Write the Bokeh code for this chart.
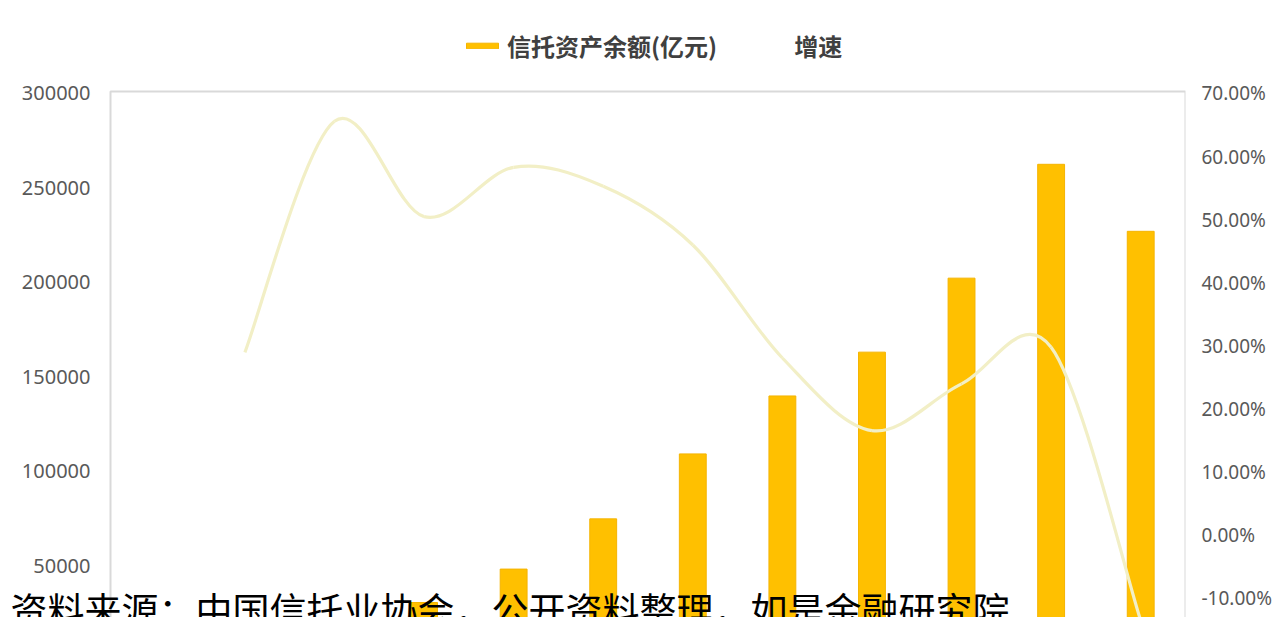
from bokeh.plotting import figure
from bokeh.models import (Range1d, LinearAxis, FixedTicker, PrintfTickFormatter, BoxAnnotation,
                          NumeralTickFormatter, Legend, LegendItem, Label, ColumnDataSource)
from bokeh.embed import file_html
from bokeh.resources import INLINE

# ---- data ----
years = ["2007", "2008", "2009", "2010", "2011", "2012", "2013", "2014", "2015", "2016", "2017", "2018"]
assets = [9500, 12200, 20200, 30400, 48100, 74700, 109100, 139800, 163000, 202200, 262500, 227000]
growth = [None, 29.0, 65.6, 50.5, 58.3, 55.3, 46.0, 28.1, 16.6, 24.0, 29.8, -13.5]
left_ticks = [50000, 100000, 150000, 200000, 250000, 300000]
right_ticks = [-10, 0, 10, 20, 30, 40, 50, 60, 70]
legend_labels = ["信托资产余额(亿元)", "增速"]
source_text = "资料来源：中国信托业协会，公开资料整理，如是金融研究院"

xs = list(range(len(years)))

W, H = 1286, 617
p = figure(width=W, height=H, output_backend="svg", toolbar_location=None,
           x_range=Range1d(-1.728, len(years) - 0.5),
           y_range=Range1d(22458, 349258),
           x_axis_location=None,
           min_border_left=0, min_border_right=101, min_border_top=0, min_border_bottom=0)
p.extra_y_ranges = {"pct": Range1d(-13.01, 84.73)}
p.grid.visible = False
p.outline_line_color = None
p.background_fill_color = "white"
p.border_fill_color = "white"

# plot-area border (left, top, right)
p.add_layout(BoxAnnotation(left=-0.5, right=len(years) - 0.5, top=301060, bottom=0,
                           fill_alpha=0, line_color="#D9D9D9", line_alpha=1.0, line_width=2,
                           level="underlay"))

# left axis
ya = p.yaxis[0]
ya.ticker = FixedTicker(ticks=left_ticks)
ya.formatter = NumeralTickFormatter(format="0")
ya.axis_line_color = None
ya.major_tick_line_color = None
ya.minor_tick_line_color = None
ya.major_tick_out = 0
ya.major_tick_in = 0
ya.major_label_text_font = "Noto Sans"
ya.major_label_text_font_size = "20px"
ya.major_label_text_color = "#595959"
ya.major_label_standoff = -90

ra = LinearAxis(y_range_name="pct", ticker=FixedTicker(ticks=right_ticks),
                formatter=PrintfTickFormatter(format="%.2f%%"))
ra.axis_line_color = None
ra.major_tick_line_color = None
ra.minor_tick_line_color = None
ra.major_tick_out = 0
ra.major_tick_in = 0
ra.major_label_text_font = "Noto Sans"
ra.major_label_text_font_size = "19px"
ra.major_label_text_color = "#595959"
ra.major_label_standoff = 16
p.add_layout(ra, "right")

# bars
bars = p.vbar(x=xs, top=assets, bottom=0, width=0.30, fill_color="#FFC000", line_color="#F5B400",
              line_width=1)

# smooth growth line (Catmull-Rom style bezier segments computed from data)
gx = [x for x, g in zip(xs, growth) if g is not None]
gy = [g for g in growth if g is not None]
n = len(gx)
x0, y0, x1, y1, cx0, cy0, cx1, cy1 = [], [], [], [], [], [], [], []
for i in range(n - 1):
    pxm, pym = (gx[i - 1], gy[i - 1]) if i > 0 else (gx[i], gy[i])
    pxp, pyp = (gx[i + 2], gy[i + 2]) if i + 2 < n else (gx[i + 1], gy[i + 1])
    x0.append(gx[i]); y0.append(gy[i]); x1.append(gx[i + 1]); y1.append(gy[i + 1])
    cx0.append(gx[i] + (gx[i + 1] - pxm) / 6.0); cy0.append(gy[i] + (gy[i + 1] - pym) / 6.0)
    cx1.append(gx[i + 1] - (pxp - gx[i]) / 6.0); cy1.append(gy[i + 1] - (pyp - gy[i]) / 6.0)
src = ColumnDataSource(dict(x0=x0, y0=y0, x1=x1, y1=y1, cx0=cx0, cy0=cy0, cx1=cx1, cy1=cy1))
p.bezier(x0="x0", y0="y0", x1="x1", y1="y1", cx0="cx0", cy0="cy0", cx1="cx1", cy1="cy1",
         source=src, y_range_name="pct", line_color="#F2EFC6", line_width=3.2)
line_proxy = p.line(x=[], y=[], y_range_name="pct", line_color="#F2EFC6", line_width=3.2)

legend = Legend(items=[LegendItem(label=legend_labels[0], renderers=[bars]),
                       LegendItem(label=legend_labels[1], renderers=[line_proxy])],
                orientation="horizontal", location=(462, 554),
                border_line_color=None, background_fill_alpha=0,
                label_text_font="Noto Sans CJK SC", label_text_font_style="bold",
                label_text_font_size="24px", label_text_color="#404040",
                glyph_width=40, glyph_height=7, label_standoff=5, spacing=32,
                padding=0, margin=0)
p.add_layout(legend)

p.add_layout(Label(x=-1.616, y=26696, text=source_text, text_font="Noto Sans CJK SC",
                   text_font_size="37px", text_color="black", text_baseline="alphabetic"))

open("out.html", "w").write(file_html(p, INLINE))
